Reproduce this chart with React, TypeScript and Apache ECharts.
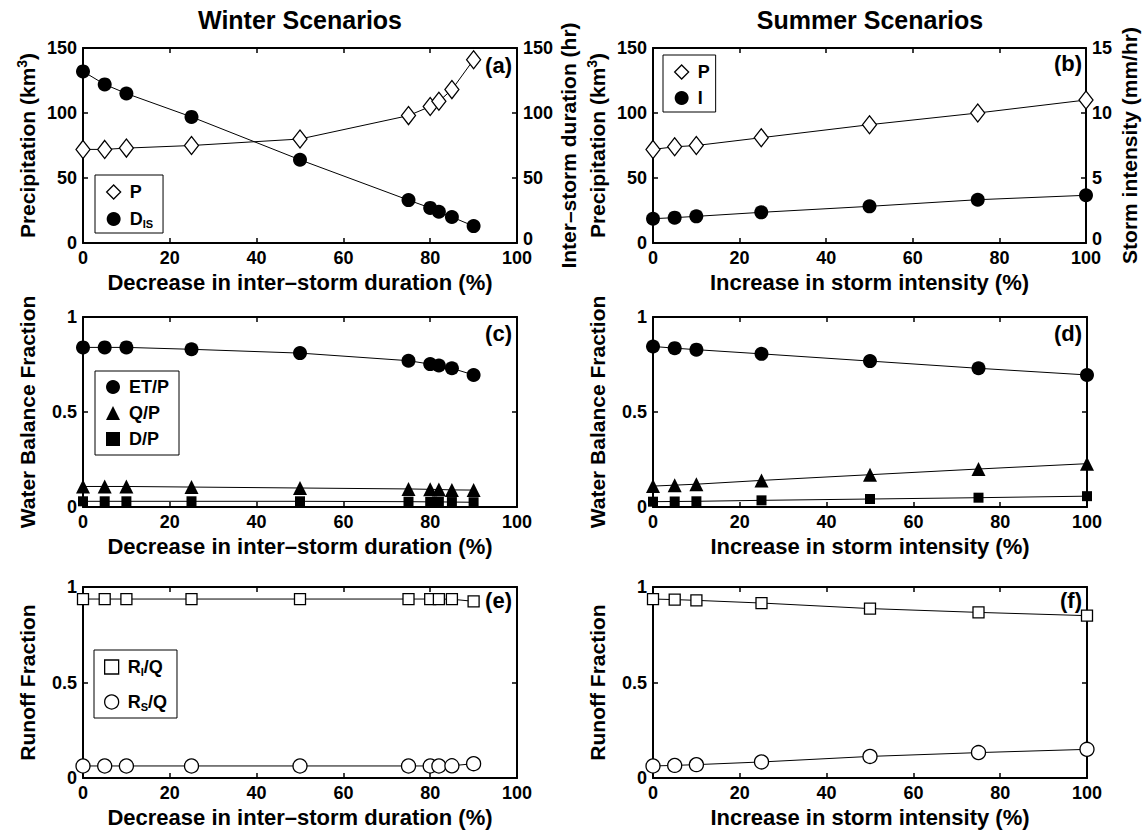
import React, { useEffect, useRef } from "react";
import * as echarts from "echarts";

// ---------- data ----------
const winterX = [0, 5, 10, 25, 50, 75, 80, 82, 85, 90];
const winterP = [72, 72, 73, 75, 80, 98, 105, 109, 118, 141];
const winterDIS = [132, 122, 115, 97, 64, 33, 27, 24, 20, 13];
const winterET = [0.84, 0.84, 0.84, 0.83, 0.81, 0.77, 0.752, 0.745, 0.73, 0.695];
const winterQ = [0.108, 0.108, 0.108, 0.105, 0.1, 0.095, 0.093, 0.092, 0.09, 0.089];
const winterD = [0.03, 0.03, 0.03, 0.03, 0.03, 0.028, 0.027, 0.027, 0.026, 0.025];
const winterRI = [0.937, 0.937, 0.937, 0.937, 0.937, 0.937, 0.937, 0.937, 0.936, 0.925];
const winterRS = [0.063, 0.063, 0.063, 0.063, 0.063, 0.063, 0.063, 0.063, 0.064, 0.075];

const summerX = [0, 5, 10, 25, 50, 75, 100];
const summerP = [72, 74, 75, 81, 91, 100, 110];
const summerI = [1.87, 1.95, 2.05, 2.36, 2.82, 3.33, 3.67];
const summerET = [0.845, 0.836, 0.828, 0.806, 0.768, 0.73, 0.695];
const summerQ = [0.11, 0.115, 0.12, 0.14, 0.17, 0.2, 0.228];
const summerD = [0.028, 0.029, 0.03, 0.035, 0.042, 0.049, 0.057];
const summerRI = [0.937, 0.934, 0.93, 0.916, 0.887, 0.867, 0.85];
const summerRS = [0.063, 0.066, 0.07, 0.084, 0.113, 0.133, 0.15];

const xTicks = [0, 20, 40, 60, 80, 100];
const panelLabels = ["(a)", "(b)", "(c)", "(d)", "(e)", "(f)"];
const columnTitles = ["Winter Scenarios", "Summer Scenarios"];
const xTitles = ["Decrease in inter\u2013storm duration (%)", "Increase in storm intensity (%)"];

const legendLabels: Record<string, string> = {
  Pw: "P",
  DISw: "D{sub|IS}",
  Ps: "P",
  Is: "I",
  ETw: "ET/P",
  Qw: "Q/P",
  Dw: "D/P",
  RIw: "R{sub|I}/Q",
  RSw: "R{sub|S}/Q",
};

const FONT = '"Liberation Sans", Arial, Helvetica, sans-serif';

const grids = [
  { left: 83, top: 48, width: 434, height: 195 },
  { left: 653, top: 48, width: 434, height: 195 },
  { left: 83, top: 317, width: 434, height: 190 },
  { left: 653, top: 317, width: 434, height: 190 },
  { left: 83, top: 587, width: 434, height: 191 },
  { left: 653, top: 587, width: 434, height: 191 },
];

function buildOption() {
  const axisLine = { show: true, onZero: false, lineStyle: { color: "#000", width: 2 } };
  const tick = { show: true, inside: true, length: 5, lineStyle: { color: "#000", width: 1.5 } };
  const xLabel = { color: "#000", fontSize: 18, fontWeight: "bold", fontFamily: FONT, margin: 7, lineHeight: 15 };
  const yLabel = { color: "#000", fontSize: 18, fontWeight: "bold", fontFamily: FONT, margin: 6, lineHeight: 13 };
  const yLabelRight = {
    ...yLabel,
    formatter: (v: number) => (v === 0 ? "{z|0}" : String(v)),
    rich: { z: { fontSize: 18, fontWeight: "bold", fontFamily: FONT, color: "#000", lineHeight: 13, padding: [0, 0, 9, 0] } },
  };
  const nameStyle = {
    color: "#000",
    fontSize: 21,
    fontWeight: "bold",
    fontFamily: FONT,
    lineHeight: 24,
    rich: {
      sup: { fontSize: 14, fontWeight: "bold", fontFamily: FONT, color: "#000", lineHeight: 14, padding: [0, 0, 10, 0], verticalAlign: "top" },
    },
  };

  const xAxis: any[] = [];
  const yAxis: any[] = [];
  grids.forEach((_, i) => {
    xAxis.push({
      type: "value",
      gridIndex: i,
      min: xTicks[0],
      max: xTicks[xTicks.length - 1],
      interval: 20,
      position: "bottom",
      axisLine,
      axisTick: tick,
      axisLabel: xLabel,
      splitLine: { show: false },
      name: xTitles[i % 2],
      nameLocation: "middle",
      nameGap: 27,
      nameTextStyle: { ...nameStyle, fontSize: 22 },
    });
    xAxis.push({
      type: "value",
      gridIndex: i,
      min: 0,
      max: 100,
      interval: 20,
      position: "top",
      axisLine,
      axisTick: tick,
      axisLabel: { show: false },
      splitLine: { show: false },
    });
    const row = Math.floor(i / 2);
    const leftName = row === 0 ? "Precipitation (km{sup|3})" : row === 1 ? "Water Balance Fraction" : "Runoff Fraction";
    const isTop = row === 0;
    yAxis.push({
      type: "value",
      gridIndex: i,
      min: 0,
      max: isTop ? 150 : 1,
      interval: isTop ? 50 : 0.5,
      position: "left",
      axisLine,
      axisTick: tick,
      axisLabel: yLabel,
      splitLine: { show: false },
      name: leftName,
      nameLocation: "middle",
      nameGap: 44,
      nameTextStyle: nameStyle,
    });
    if (i === 0) {
      yAxis.push({
        type: "value", gridIndex: i, min: 0, max: 150, interval: 50, position: "right",
        axisLine, axisTick: tick, axisLabel: yLabelRight, splitLine: { show: false },
        name: "Inter\u2013storm duration (hr)", nameLocation: "middle", nameGap: 38, nameTextStyle: nameStyle,
      });
    } else if (i === 1) {
      yAxis.push({
        type: "value", gridIndex: i, min: 0, max: 15, interval: 5, position: "right",
        axisLine, axisTick: tick, axisLabel: yLabelRight, splitLine: { show: false },
        name: "Storm intensity (mm/hr)", nameLocation: "middle", nameGap: 31, nameTextStyle: nameStyle,
      });
    } else {
      yAxis.push({
        type: "value", gridIndex: i, min: 0, max: 1, interval: 0.5, position: "right",
        axisLine, axisTick: tick, axisLabel: { show: false }, splitLine: { show: false },
      });
    }
  });

  const mk = (name: string, xs: number[], ys: number[], g: number, right: boolean, symbol: string, size: any, filled: boolean) => ({
    type: "line",
    name,
    xAxisIndex: g * 2,
    yAxisIndex: g * 2 + (right ? 1 : 0),
    data: xs.map((x, k) => [x, ys[k]]),
    symbol,
    symbolSize: size,
    showSymbol: true,
    clip: false,
    silent: true,
    lineStyle: { color: "#000", width: 1 },
    itemStyle: { color: filled ? "#000" : "#fff", borderColor: "#000", borderWidth: filled ? 0 : 1.3 },
    emphasis: { disabled: true },
    z: 3,
  });

  const series = [
    mk("Pw", winterX, winterP, 0, false, "diamond", [14, 18], false),
    mk("DISw", winterX, winterDIS, 0, true, "circle", 14, true),
    mk("Ps", summerX, summerP, 1, false, "diamond", [14, 18], false),
    mk("Is", summerX, summerI, 1, true, "circle", 14, true),
    mk("ETw", winterX, winterET, 2, false, "circle", 14, true),
    mk("Qw", winterX, winterQ, 2, false, "triangle", 14, true),
    mk("Dw", winterX, winterD, 2, false, "rect", 10, true),
    mk("ETs", summerX, summerET, 3, false, "circle", 14, true),
    mk("Qs", summerX, summerQ, 3, false, "triangle", 14, true),
    mk("Ds", summerX, summerD, 3, false, "rect", 10, true),
    mk("RIw", winterX, winterRI, 4, false, "rect", 11, false),
    mk("RSw", winterX, winterRS, 4, false, "circle", 14, false),
    mk("RIs", summerX, summerRI, 5, false, "rect", 11, false),
    mk("RSs", summerX, summerRS, 5, false, "circle", 14, false),
  ];

  const filledStyle = { color: "#000", borderWidth: 0 };
  const openStyle = { color: "#fff", borderColor: "#000", borderWidth: 1.3 };
  const legendText = {
    color: "#000",
    fontSize: 18,
    fontWeight: "bold",
    fontFamily: FONT,
    lineHeight: 20,
    padding: [0, 0, 0, 4],
    rich: {
      sub: { fontSize: 11, fontWeight: "bold", fontFamily: FONT, color: "#000", lineHeight: 12, padding: [10, 0, 0, 0], verticalAlign: "bottom" },
    },
  };
  const legendBase = {
    orient: "vertical",
    borderColor: "#000",
    borderWidth: 1,
    backgroundColor: "#fff",
    itemWidth: 14,
    itemHeight: 14,
    selectedMode: false,
    textStyle: legendText,
    formatter: (n: string) => legendLabels[n] || n,
    z: 10,
  };
  const legend = [
    { ...legendBase, left: 95, top: 175, padding: [7, 10, 4, 11], itemGap: 6,
      data: [{ name: "Pw", icon: "diamond", itemStyle: openStyle }, { name: "DISw", icon: "circle", itemStyle: filledStyle }] },
    { ...legendBase, left: 663, top: 55, padding: [7, 6, 4, 11], itemGap: 6,
      data: [{ name: "Ps", icon: "diamond", itemStyle: openStyle }, { name: "Is", icon: "circle", itemStyle: filledStyle }] },
    { ...legendBase, left: 95, top: 371, padding: [6, 10, 6, 11], itemGap: 6,
      data: [
        { name: "ETw", icon: "circle", itemStyle: filledStyle },
        { name: "Qw", icon: "triangle", itemStyle: filledStyle },
        { name: "Dw", icon: "rect", itemStyle: filledStyle },
      ] },
    { ...legendBase, left: 94, top: 650, padding: [6, 10, 6, 10], itemGap: 14,
      data: [{ name: "RIw", icon: "rect", itemStyle: openStyle }, { name: "RSw", icon: "circle", itemStyle: openStyle }] },
  ];

  const graphic: any[] = [];
  columnTitles.forEach((t, c) => {
    graphic.push({
      type: "text",
      x: c === 0 ? 300 : 870,
      y: 20,
      style: { text: t, fontSize: 25, fontWeight: "bold", fontFamily: FONT, fill: "#000", align: "center", verticalAlign: "middle" },
    });
  });
  const labelY = [65, 63, 333, 333, 600, 600];
  panelLabels.forEach((t, i) => {
    const g = grids[i];
    graphic.push({
      type: "text",
      x: g.left + g.width - 5,
      y: labelY[i],
      z: 20,
      style: { text: t, fontSize: 22, fontWeight: "bold", fontFamily: FONT, fill: "#000", align: "right", verticalAlign: "middle" },
    });
  });

  return {
    animation: false,
    backgroundColor: "#fff",
    grid: grids.map((g) => ({ ...g, containLabel: false })),
    xAxis,
    yAxis,
    series,
    legend,
    graphic,
  };
}

export default function App() {
  const ref = useRef<HTMLDivElement>(null);
  useEffect(() => {
    if (!ref.current) return;
    const chart = echarts.init(ref.current, undefined, { renderer: "svg" });
    chart.setOption(buildOption() as any);
    return () => chart.dispose();
  }, []);
  return (
    <div
      ref={ref}
      style={{ position: "absolute", left: 0, top: 0, width: 1142, height: 833, background: "#fff" }}
    />
  );
}
